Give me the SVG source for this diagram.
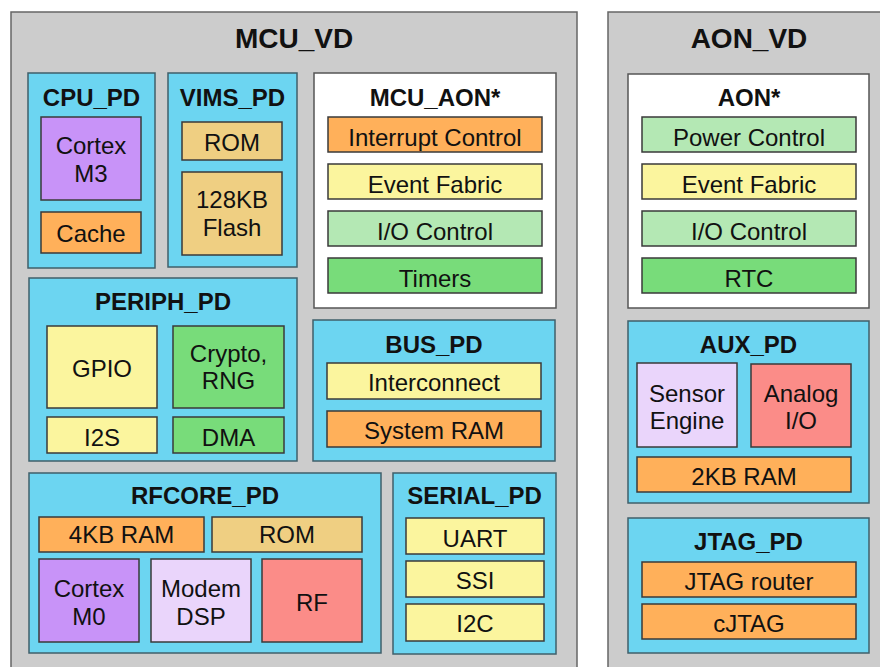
<svg xmlns="http://www.w3.org/2000/svg" width="880" height="667" viewBox="0 0 880 667">
<style>
text{font-family:"Liberation Sans",Arial,sans-serif;fill:#111;text-anchor:middle}
.vdt{font-size:28px;font-weight:bold}
.pdt{font-size:24px;font-weight:bold}
.it{font-size:24px}
.vd{fill:#cccccc;stroke:#666;stroke-width:1.5}
.pd{fill:#6cd5f1;stroke:#3f5f6a;stroke-width:1.5}
.aon{fill:#ffffff;stroke:#555;stroke-width:1.5}
rect.b{stroke:#3a3a3a;stroke-width:1.5}
.pur{fill:#c893f8}.org{fill:#ffb05a}.tan{fill:#efcf82}.yel{fill:#fbf59e}
.lgr{fill:#b4e8b4}.grn{fill:#78dc7a}.lpu{fill:#ead5fb}.red{fill:#fb8c88}
</style>
<rect width="880" height="667" fill="#ffffff"/>
<g id="MCU_VD">
<rect class="vd" x="11" y="12" width="566" height="670"/>
<text class="vdt" x="294" y="48">MCU_VD</text>
</g>
<g id="AON_VD">
<rect class="vd" x="608" y="12" width="290" height="670"/>
<text class="vdt" x="749" y="48">AON_VD</text>
</g>
<g id="CPU_PD">
<rect class="pd" x="28" y="73" width="127" height="195"/>
<text class="pdt" x="91.5" y="106">CPU_PD</text>
<rect class="b pur" x="41" y="117" width="100" height="83"/>
<text class="it" x="91" y="154">Cortex</text>
<text class="it" x="91" y="182">M3</text>
<rect class="b org" x="41" y="212" width="100" height="41"/>
<text class="it" x="91" y="242">Cache</text>
</g>
<g id="VIMS_PD">
<rect class="pd" x="168" y="73" width="129" height="194"/>
<text class="pdt" x="232.5" y="106">VIMS_PD</text>
<rect class="b tan" x="182" y="122" width="100" height="38"/>
<text class="it" x="232" y="151">ROM</text>
<rect class="b tan" x="182" y="172" width="100" height="83"/>
<text class="it" x="232" y="208">128KB</text>
<text class="it" x="232" y="236">Flash</text>
</g>
<g id="MCU_AON">
<rect class="aon" x="314" y="73" width="242" height="235"/>
<text class="pdt" x="435" y="106">MCU_AON*</text>
<rect class="b org" x="328" y="117" width="214" height="35"/>
<text class="it" x="435" y="145.5">Interrupt Control</text>
<rect class="b yel" x="328" y="164" width="214" height="35"/>
<text class="it" x="435" y="192.5">Event Fabric</text>
<rect class="b lgr" x="328" y="211" width="214" height="35"/>
<text class="it" x="435" y="239.5">I/O Control</text>
<rect class="b grn" x="328" y="258" width="214" height="35"/>
<text class="it" x="435" y="286.5">Timers</text>
</g>
<g id="AON">
<rect class="aon" x="628" y="74" width="241" height="234"/>
<text class="pdt" x="749" y="106">AON*</text>
<rect class="b lgr" x="642" y="117" width="214" height="35"/>
<text class="it" x="749" y="145.5">Power Control</text>
<rect class="b yel" x="642" y="164" width="214" height="35"/>
<text class="it" x="749" y="192.5">Event Fabric</text>
<rect class="b lgr" x="642" y="211" width="214" height="35"/>
<text class="it" x="749" y="239.5">I/O Control</text>
<rect class="b grn" x="642" y="258" width="214" height="35"/>
<text class="it" x="749" y="286.5">RTC</text>
</g>
<g id="PERIPH_PD">
<rect class="pd" x="29" y="278" width="268" height="183"/>
<text class="pdt" x="163" y="310">PERIPH_PD</text>
<rect class="b yel" x="47" y="326" width="110" height="82"/>
<text class="it" x="102" y="376.5">GPIO</text>
<rect class="b grn" x="173" y="326" width="111" height="82"/>
<text class="it" x="228.5" y="361.5">Crypto,</text>
<text class="it" x="228.5" y="389">RNG</text>
<rect class="b yel" x="47" y="417" width="110" height="36"/>
<text class="it" x="102" y="445.5">I2S</text>
<rect class="b grn" x="173" y="417" width="111" height="36"/>
<text class="it" x="228.5" y="445.5">DMA</text>
</g>
<g id="BUS_PD">
<rect class="pd" x="313" y="320" width="242" height="141"/>
<text class="pdt" x="434" y="352.5">BUS_PD</text>
<rect class="b yel" x="327" y="363" width="214" height="36"/>
<text class="it" x="434" y="391">Interconnect</text>
<rect class="b org" x="327" y="411" width="214" height="36"/>
<text class="it" x="434" y="439">System RAM</text>
</g>
<g id="AUX_PD">
<rect class="pd" x="628" y="321" width="241" height="182"/>
<text class="pdt" x="748.5" y="353">AUX_PD</text>
<rect class="b lpu" x="637" y="363" width="100" height="84"/>
<text class="it" x="687" y="401.5">Sensor</text>
<text class="it" x="687" y="429">Engine</text>
<rect class="b red" x="751" y="364" width="100" height="83"/>
<text class="it" x="801" y="401.5">Analog</text>
<text class="it" x="801" y="429">I/O</text>
<rect class="b org" x="637" y="457" width="214" height="35"/>
<text class="it" x="744" y="485">2KB RAM</text>
</g>
<g id="RFCORE_PD">
<rect class="pd" x="29" y="473" width="352" height="180"/>
<text class="pdt" x="205" y="504">RFCORE_PD</text>
<rect class="b org" x="39" y="517" width="165" height="35"/>
<text class="it" x="121.5" y="543">4KB RAM</text>
<rect class="b tan" x="212" y="517" width="150" height="35"/>
<text class="it" x="287" y="543">ROM</text>
<rect class="b pur" x="39" y="559" width="100" height="83"/>
<text class="it" x="89" y="596.5">Cortex</text>
<text class="it" x="89" y="625">M0</text>
<rect class="b lpu" x="151" y="559" width="100" height="83"/>
<text class="it" x="201" y="596.5">Modem</text>
<text class="it" x="201" y="625">DSP</text>
<rect class="b red" x="262" y="559" width="100" height="83"/>
<text class="it" x="312" y="610.5">RF</text>
</g>
<g id="SERIAL_PD">
<rect class="pd" x="393" y="473" width="163" height="181"/>
<text class="pdt" x="474.5" y="504">SERIAL_PD</text>
<rect class="b yel" x="406" y="518" width="138" height="36"/>
<text class="it" x="475" y="547">UART</text>
<rect class="b yel" x="406" y="561" width="138" height="36"/>
<text class="it" x="475" y="589">SSI</text>
<rect class="b yel" x="406" y="604" width="138" height="37"/>
<text class="it" x="475" y="631.5">I2C</text>
</g>
<g id="JTAG_PD">
<rect class="pd" x="628" y="518" width="241" height="135"/>
<text class="pdt" x="748.5" y="550">JTAG_PD</text>
<rect class="b org" x="642" y="562" width="214" height="35"/>
<text class="it" x="749" y="589.5">JTAG router</text>
<rect class="b org" x="642" y="604" width="214" height="35"/>
<text class="it" x="749" y="631.5">cJTAG</text>
</g>
<g id="connectors"/>
</svg>
